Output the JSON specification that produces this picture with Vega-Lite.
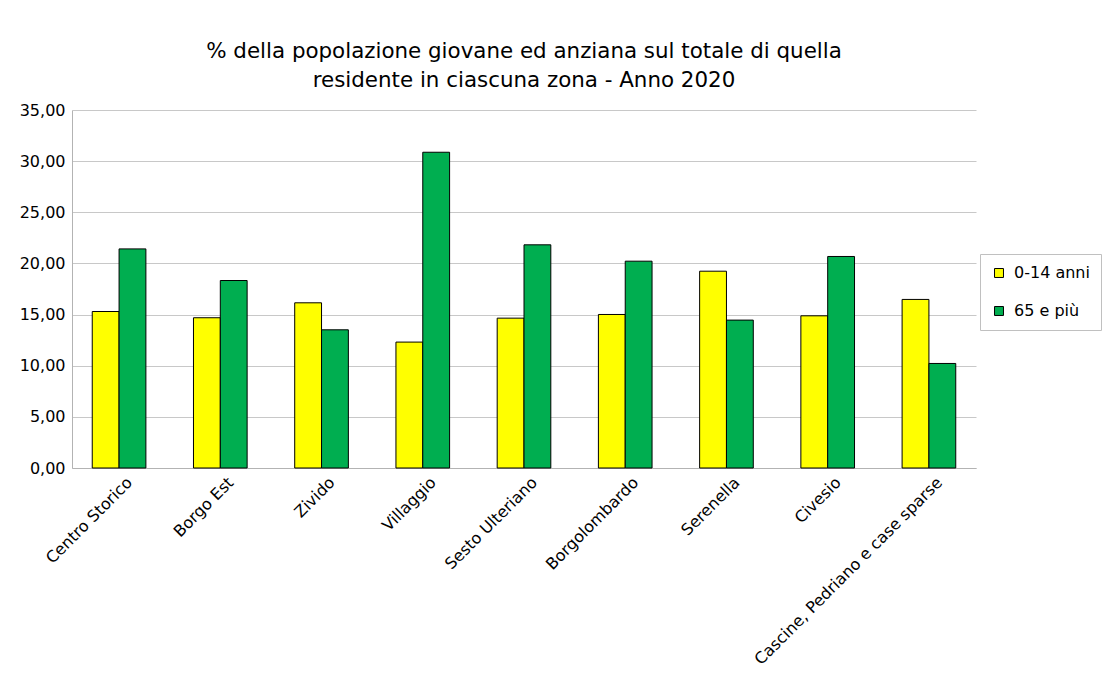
{
  "$schema": "https://vega.github.io/schema/vega-lite/v6.json",
  "width": 904,
  "height": 358,
  "autosize": {"type": "none"},
  "padding": {"left": 72, "top": 110, "right": 136, "bottom": 215},
  "background": "white",
  "config": {
    "font": "DejaVu Sans",
    "locale": {"number": {"decimal": ",", "thousands": ".", "grouping": [3], "currency": ["€", ""]}},
    "view": {"stroke": null}
  },
  "title": {
    "text": ["% della popolazione giovane ed anziana sul totale di quella", "residente in ciascuna zona  - Anno 2020"],
    "fontSize": 21.4,
    "fontWeight": "normal",
    "color": "black",
    "lineHeight": 29,
    "offset": 11,
    "anchor": "middle"
  },
  "data": {
    "values": [
      {"zona": "Centro Storico", "gruppo": "0-14 anni", "valore": 15.30},
      {"zona": "Centro Storico", "gruppo": "65 e più", "valore": 21.42},
      {"zona": "Borgo Est", "gruppo": "0-14 anni", "valore": 14.69},
      {"zona": "Borgo Est", "gruppo": "65 e più", "valore": 18.33},
      {"zona": "Zivido", "gruppo": "0-14 anni", "valore": 16.15},
      {"zona": "Zivido", "gruppo": "65 e più", "valore": 13.51},
      {"zona": "Villaggio", "gruppo": "0-14 anni", "valore": 12.31},
      {"zona": "Villaggio", "gruppo": "65 e più", "valore": 30.87},
      {"zona": "Sesto Ulteriano", "gruppo": "0-14 anni", "valore": 14.65},
      {"zona": "Sesto Ulteriano", "gruppo": "65 e più", "valore": 21.82},
      {"zona": "Borgolombardo", "gruppo": "0-14 anni", "valore": 15.01},
      {"zona": "Borgolombardo", "gruppo": "65 e più", "valore": 20.22},
      {"zona": "Serenella", "gruppo": "0-14 anni", "valore": 19.24},
      {"zona": "Serenella", "gruppo": "65 e più", "valore": 14.46},
      {"zona": "Civesio", "gruppo": "0-14 anni", "valore": 14.88},
      {"zona": "Civesio", "gruppo": "65 e più", "valore": 20.68},
      {"zona": "Cascine, Pedriano e case sparse", "gruppo": "0-14 anni", "valore": 16.48},
      {"zona": "Cascine, Pedriano e case sparse", "gruppo": "65 e più", "valore": 10.22}
    ]
  },
  "mark": {"type": "bar", "stroke": "black", "strokeWidth": 1},
  "encoding": {
    "x": {
      "field": "zona",
      "type": "nominal",
      "sort": null,
      "scale": {"paddingInner": 0.47, "paddingOuter": 0.2},
      "axis": {
        "title": null,
        "labelAngle": -45,
        "labelFontSize": 16,
        "labelColor": "black",
        "labelPadding": 6,
        "labelOffset": 5,
        "ticks": false,
        "domainColor": "#b3b3b3",
        "labelLimit": 400
      }
    },
    "xOffset": {"field": "gruppo", "type": "nominal"},
    "y": {
      "field": "valore",
      "type": "quantitative",
      "scale": {"domain": [0, 35], "nice": false},
      "axis": {
        "title": null,
        "values": [0, 5, 10, 15, 20, 25, 30, 35],
        "format": ".2f",
        "labelFontSize": 16,
        "labelColor": "black",
        "labelPadding": 7,
        "ticks": false,
        "domainColor": "#b3b3b3",
        "gridColor": "#c8c8c8",
        "gridWidth": 1
      }
    },
    "color": {
      "field": "gruppo",
      "type": "nominal",
      "scale": {"domain": ["0-14 anni", "65 e più"], "range": ["#FFFF00", "#00AE50"]},
      "legend": {
        "title": null,
        "orient": "none",
        "legendX": 908,
        "legendY": 144,
        "strokeColor": "#c0c0c0",
        "padding": 11,
        "symbolType": "square",
        "symbolSize": 80,
        "symbolStrokeColor": "black",
        "symbolStrokeWidth": 1,
        "labelFontSize": 16,
        "labelColor": "black",
        "rowPadding": 22,
        "labelOffset": 7
      }
    }
  }
}
